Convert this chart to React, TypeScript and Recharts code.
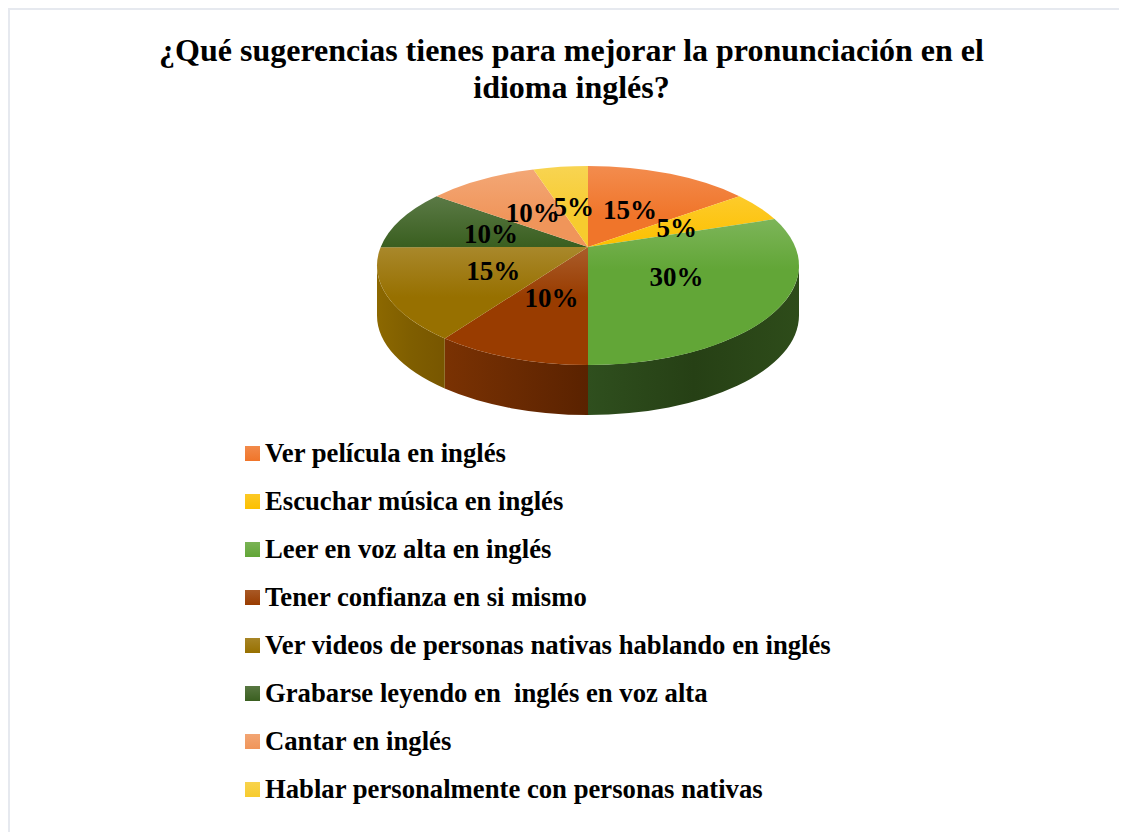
import { PieChart, Pie, Legend } from 'recharts'

// Labels and values as printed on the chart
const categories = [
  'Ver película en inglés',
  'Escuchar música en inglés',
  'Leer en voz alta en inglés',
  'Tener confianza en si mismo',
  'Ver videos de personas nativas hablando en inglés',
  'Grabarse leyendo en  inglés en voz alta',
  'Cantar en inglés',
  'Hablar personalmente con personas nativas',
]
const percentages = [15, 5, 30, 10, 15, 10, 10, 5]
const titleLines = ['¿Qué sugerencias tienes para mejorar la pronunciación en el', 'idioma inglés?']

const sliceColors = ['#f0752a', '#fcc000', '#62a637', '#993c00', '#977000', '#3a5f20', '#f0955a', '#f7cb2e']
const wallColors = [
  ['#a04e1c', '#a04e1c', '#a04e1c'],
  ['#a88000', '#a88000', '#a88000'],
  ['#2f4f1e', '#264015', '#2e4c1a'],
  ['#7a3203', '#6a2a02', '#5a2200'],
  ['#8c6800', '#7f5e00', '#785600'],
  ['#2a4416', '#2a4416', '#2a4416'],
  ['#a0643c', '#a0643c', '#a0643c'],
  ['#a38920', '#a38920', '#a38920'],
]

const tableData = categories.map((name, i) => ({ name, value: percentages[i], fill: sliceColors[i] }))

const FONT = '"Liberation Serif", "Times New Roman", serif'
const PIE_CX = 580
const PIE_CY = 239
const RADIUS = 211
const RY = 99.5 // squashed radius of the top face
const CENTER_SHIFT = 18.5 // perspective: ellipse centre sits below the pie's centre
const PERSPECTIVE = 0.83
const DEPTH = 50

const lighten = (hex: string, amount: number) => {
  const n = parseInt(hex.slice(1), 16)
  const ch = [(n >> 16) & 255, (n >> 8) & 255, n & 255].map(c => Math.round(c + (255 - c) * amount))
  return `rgb(${ch.join(',')})`
}

// library angle (degrees, ccw from 3 o'clock) -> clockwise angle on the ellipse, radians
const project = (angle: number) => {
  const half = (((90 - angle) / 2) * Math.PI) / 180
  return 2 * Math.atan2(PERSPECTIVE * Math.sin(half), Math.cos(half))
}

const rim = (cx: number, cy: number, t: number, dy = 0) => ({
  x: cx + RADIUS * Math.sin(t),
  y: cy + CENTER_SHIFT - RY * Math.cos(t) + dy,
})

const TopSlice = (props: any) => {
  const { cx, cy, startAngle, endAngle, fill } = props
  const a = project(startAngle)
  const b = project(endAngle)
  const p = rim(cx, cy, a)
  const q = rim(cx, cy, b)
  const large = b - a > Math.PI ? 1 : 0
  const id = `top-${Math.round(startAngle + 400)}`
  const ys = Math.min(p.y, q.y, cy)
  return (
    <g>
      <defs>
        <linearGradient id={id} gradientUnits="userSpaceOnUse" x1="0" x2="0" y1={ys} y2={ys + 50}>
          <stop offset="0" stopColor={lighten(fill, 0.17)} />
          <stop offset="1" stopColor={fill} />
        </linearGradient>
      </defs>
      <path
        d={`M${cx},${cy} L${p.x},${p.y} A${RADIUS},${RY} 0 ${large} 1 ${q.x},${q.y} Z`}
        fill={`url(#${id})`}
      />
    </g>
  )
}

const WallSlice = (props: any) => {
  const { cx, cy, startAngle, endAngle, fill } = props
  // only the front half of the rim has a visible wall
  const a = Math.max(project(startAngle), Math.PI / 2)
  const b = Math.min(project(endAngle), (3 * Math.PI) / 2)
  if (b <= a) return <g />
  const p = rim(cx, cy, a)
  const q = rim(cx, cy, b)
  const p2 = rim(cx, cy, a, DEPTH)
  const q2 = rim(cx, cy, b, DEPTH)
  const stops = wallColors[sliceColors.indexOf(fill)]
  const id = `wall-${Math.round(startAngle + 400)}`
  return (
    <g>
      <defs>
        <linearGradient
          id={id}
          gradientUnits="userSpaceOnUse"
          x1={Math.min(p.x, q.x)}
          x2={Math.max(p.x, q.x)}
          y1="0"
          y2="0"
        >
          <stop offset="0" stopColor={stops[0]} />
          <stop offset="0.5" stopColor={stops[1]} />
          <stop offset="1" stopColor={stops[2]} />
        </linearGradient>
      </defs>
      <path
        d={`M${p.x},${p.y} A${RADIUS},${RY} 0 0 1 ${q.x},${q.y} L${q2.x},${q2.y} A${RADIUS},${RY} 0 0 0 ${p2.x},${p2.y} Z`}
        fill={`url(#${id})`}
      />
    </g>
  )
}

const renderLabel = (props: any) => {
  const { cx, cy, midAngle, value } = props
  const t = project(midAngle)
  const front = Math.cos(t) < 0
  return (
    <text
      x={cx + (front ? 0.47 : 0.52) * RADIUS * Math.sin(t)}
      y={cy + 11 - (front ? 0.43 : 0.52) * RY * Math.cos(t)}
      textAnchor="middle"
      dominantBaseline="central"
      fontFamily={FONT}
      fontWeight="bold"
      fontSize={27}
      fill="#000"
    >
      {value}%
    </text>
  )
}

const LegendList = () => (
  <div>
    {tableData.map(entry => (
      <div
        key={entry.name}
        style={{ height: 48, display: 'flex', alignItems: 'center', fontFamily: FONT, fontWeight: 'bold', fontSize: 26.7, color: '#000', whiteSpace: 'pre' }}
      >
        <span
          style={{
            width: 15,
            height: 15,
            marginRight: 5,
            background: `linear-gradient(${lighten(entry.fill, 0.15)}, ${entry.fill})`,
          }}
        />
        {entry.name}
      </div>
    ))}
  </div>
)

export default function App() {
  return (
    <div
      style={{
        position: 'relative',
        width: 1119,
        height: 824,
        background: '#fff',
        borderTop: '2px solid #e6e9ef',
        borderLeft: '2px solid #e6e9ef',
        boxSizing: 'border-box',
      }}
    >
      <div
        style={{
          position: 'absolute',
          left: 0,
          top: 22,
          width: 1127,
          textAlign: 'center',
          fontFamily: FONT,
          fontWeight: 'bold',
          fontSize: 32,
          lineHeight: '37px',
          color: '#000',
          paddingRight: 4,
          boxSizing: 'border-box',
        }}
      >
        {titleLines.map(line => (
          <div key={line}>{line}</div>
        ))}
      </div>
      <div style={{ position: 'absolute', left: -2, top: -2 }}>
        <PieChart width={1119} height={824} margin={{ top: 0, right: 0, bottom: 0, left: 0 }}>
          {/* side walls first, the top face is painted over them */}
          <Pie
            data={tableData}
            dataKey="value"
            nameKey="name"
            cx={PIE_CX}
            cy={PIE_CY}
            outerRadius={RADIUS}
            startAngle={90}
            endAngle={-270}
            legendType="none"
            shape={WallSlice}
            isAnimationActive={false}
          />
          <Pie
            data={tableData}
            dataKey="value"
            nameKey="name"
            cx={PIE_CX}
            cy={PIE_CY}
            outerRadius={RADIUS}
            startAngle={90}
            endAngle={-270}
            shape={TopSlice}
            label={renderLabel}
            labelLine={false}
            isAnimationActive={false}
          />
          <Legend content={<LegendList />} wrapperStyle={{ left: 237, top: 421, width: 800, bottom: 'auto' }} />
        </PieChart>
      </div>
    </div>
  )
}
